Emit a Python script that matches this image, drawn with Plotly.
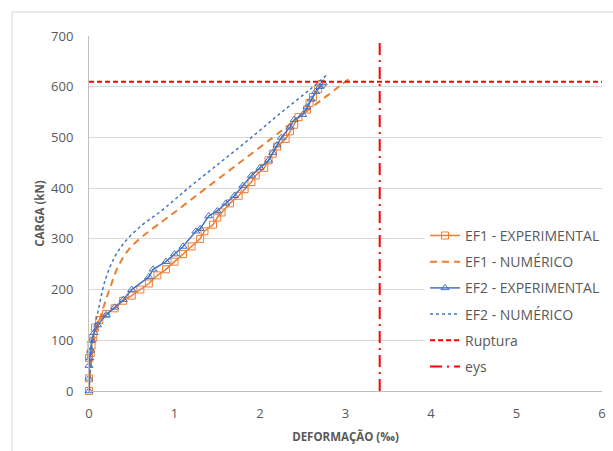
import plotly.graph_objects as go

# EF1 - EXPERIMENTAL
ef1_exp_x = [0, 0, -0.01, 0, 0.02, 0.03, 0.05, 0.07, 0.12, 0.2, 0.3, 0.4, 0.5, 0.6, 0.7, 0.8, 0.9, 1.0,
             1.1, 1.2, 1.3, 1.35, 1.45, 1.5, 1.55, 1.65, 1.75, 1.82, 1.9, 1.95, 2.05, 2.1, 2.15, 2.2,
             2.3, 2.35, 2.4, 2.45, 2.55, 2.58, 2.62, 2.68, 2.72]
ef1_exp_y = [0, 25, 50, 65, 75, 90, 105, 125, 140, 152, 163, 178, 188, 200, 212, 228, 240, 255,
             270, 285, 300, 315, 328, 342, 352, 370, 385, 398, 412, 425, 440, 455, 468, 482,
             497, 512, 525, 540, 555, 568, 580, 595, 605]

# EF1 - NUMÉRICO
ef1_num_x = [0, 0.02, 0.06, 0.16, 0.25, 0.34, 0.46, 0.62, 0.83, 0.99, 1.16, 1.37, 1.76, 2.15,
             2.34, 2.57, 2.79, 2.96, 3.08]
ef1_num_y = [0, 50, 100, 160, 205, 245, 278, 304, 331, 351, 373, 400, 450, 500,
             525, 555, 583, 605, 620]

# EF2 - EXPERIMENTAL
ef2_exp_x = [0, 0, 0, 0.01, 0.02, 0.03, 0.06, 0.1, 0.2, 0.3, 0.4, 0.5, 0.7, 0.75, 0.9, 1.0, 1.1,
             1.25, 1.3, 1.4, 1.5, 1.6, 1.7, 1.8, 1.9, 2.0, 2.1, 2.15, 2.2, 2.25, 2.35, 2.4, 2.5,
             2.55, 2.6, 2.65, 2.7, 2.74]
ef2_exp_y = [0, 25, 50, 65, 80, 100, 115, 130, 150, 165, 180, 200, 225, 240, 255, 270, 285,
             315, 320, 345, 355, 370, 385, 405, 425, 440, 455, 470, 485, 500, 520, 535, 545,
             560, 575, 590, 600, 607]

# EF2 - NUMÉRICO
ef2_num_x = [0, 0.02, 0.05, 0.11, 0.19, 0.30, 0.42, 0.62, 0.83, 1.0, 1.16, 1.53, 1.9,
             2.24, 2.58, 2.78]
ef2_num_y = [0, 50, 110, 160, 219, 264, 294, 327, 353, 377, 400, 450, 500,
             548, 594, 623]

# Reference lines
ruptura_x = [0, 6]
ruptura_y = [610, 610]
eys_x = [3.4, 3.4]
eys_y = [0, 690]

x_ticks = [0, 1, 2, 3, 4, 5, 6]
y_ticks = [0, 100, 200, 300, 400, 500, 600, 700]

ORANGE = "#ED7D31"
BLUE = "#4472C4"
RED = "#FF0000"
GREY = "#595959"

fig = go.Figure()
fig.add_trace(go.Scatter(x=ef1_exp_x, y=ef1_exp_y, mode="lines+markers", name="EF1 - EXPERIMENTAL",
                         line=dict(color=ORANGE, width=1.5),
                         marker=dict(symbol="square-open", size=7, color=ORANGE, line=dict(width=1)),
                         cliponaxis=False, legendgroup="a"))
fig.add_trace(go.Scatter(x=ef1_num_x, y=ef1_num_y, mode="lines", name="EF1 - NUMÉRICO",
                         line=dict(color=ORANGE, width=2, dash="7px,5px", shape="spline"),
                         cliponaxis=False, legendgroup="b"))
fig.add_trace(go.Scatter(x=ef2_exp_x, y=ef2_exp_y, mode="lines+markers", name="EF2 - EXPERIMENTAL",
                         line=dict(color=BLUE, width=1.5),
                         marker=dict(symbol="triangle-up-open", size=7, color=BLUE, line=dict(width=1)),
                         cliponaxis=False, legendgroup="c"))
fig.add_trace(go.Scatter(x=ef2_num_x, y=ef2_num_y, mode="lines", name="EF2 - NUMÉRICO",
                         line=dict(color=BLUE, width=1.5, dash="dot", shape="spline"),
                         cliponaxis=False, legendgroup="d"))
fig.add_trace(go.Scatter(x=ruptura_x, y=ruptura_y, mode="lines", name="Ruptura",
                         line=dict(color=RED, width=2, dash="5px,3px"),
                         cliponaxis=False, legendgroup="e"))
fig.add_trace(go.Scatter(x=eys_x, y=eys_y, mode="lines", name="eys",
                         line=dict(color=RED, width=2, dash="12px,5px,2px,5px"),
                         cliponaxis=False, legendgroup="f"))

fig.update_layout(
    width=613, height=451,
    margin=dict(l=89, r=11, t=36, b=60, autoexpand=False),
    paper_bgcolor="white", plot_bgcolor="white",
    font=dict(family="Open Sans, Noto Sans, sans-serif", size=13, color=GREY),
    legend=dict(x=0.655, y=0.482, xanchor="left", yanchor="top", bgcolor="white",
                font=dict(size=14, color=GREY), traceorder="grouped", tracegroupgap=5),
    xaxis=dict(range=[0, 6], tickvals=x_ticks, showgrid=False, zeroline=False,
               showline=True, linecolor="#BFBFBF", linewidth=1, ticks="", automargin=False,
               ticklabelstandoff=10,
               title=dict(text="<b>DEFORMAÇÃO (‰)</b>", font=dict(size=11.5, color=GREY), standoff=12)),
    yaxis=dict(range=[0, 700], tickvals=y_ticks, showgrid=True, gridcolor="#D9D9D9", gridwidth=1,
               zeroline=False, showline=True, linecolor="#BFBFBF", linewidth=1, ticks="", automargin=False,
               ticklabelstandoff=12,
               title=dict(text="<b>CARGA (kN)</b>", font=dict(size=11.5, color=GREY), standoff=4)),
    shapes=[dict(type="rect", xref="paper", yref="paper", x0=-0.150, x1=1.05, y0=-0.3, y1=1.0676,
                 line=dict(color="#D9D9D9", width=1), fillcolor="rgba(0,0,0,0)", layer="below")],
)

fig.write_html("out.html", config={"displayModeBar": False},
               post_script="document.body.style.margin='0';document.body.style.overflow='hidden';")
